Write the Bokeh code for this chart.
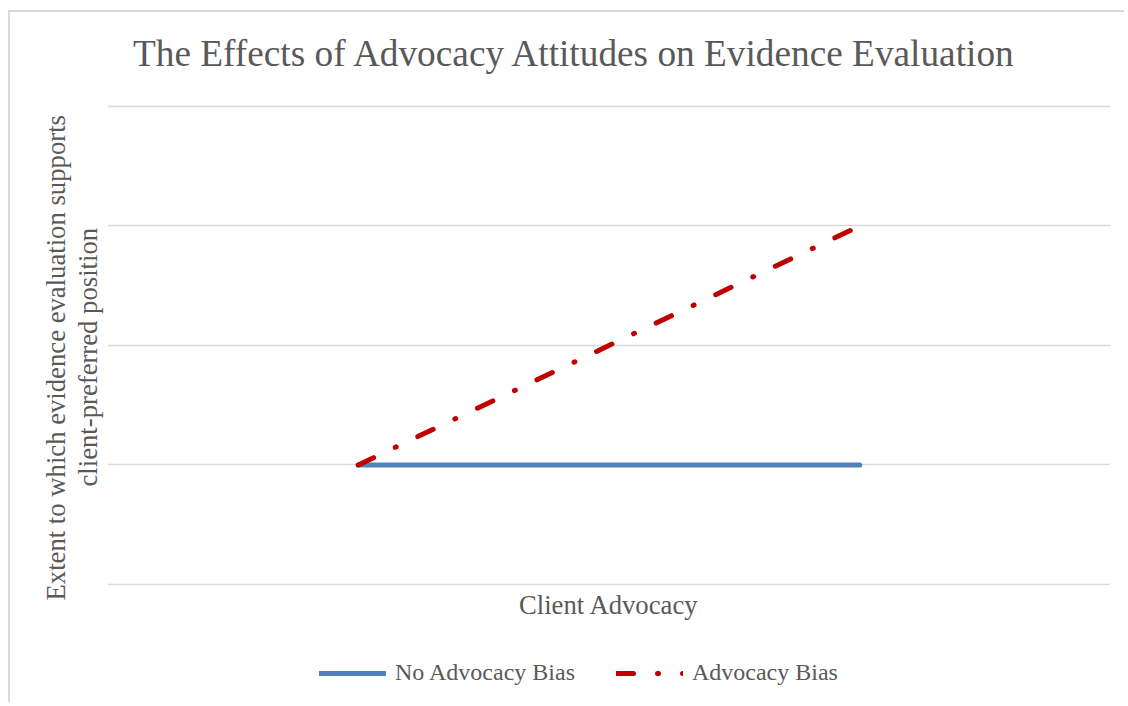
from bokeh.plotting import figure
from bokeh.layouts import column
from bokeh.models import (Range1d, FactorRange, FixedTicker, Legend, LegendItem,
                          Title, Label, ColumnDataSource, Div)
from bokeh.embed import file_html
from bokeh.resources import INLINE

# ---- data ----
categories = ["Low Client Advocacy", "High Client Advocacy"]
no_advocacy_bias = [1, 1]
advocacy_bias = [1, 3]
y_ticks = [0, 1, 2, 3, 4]

title_text = "The Effects of Advocacy Attitudes on Evidence Evaluation"
x_label = "Client Advocacy"
y_label_1 = "Extent to which evidence evaluation supports"
y_label_2 = "client-preferred position"

FONT = "Liberation Serif"
TXT = "#595959"
GRID = "#d9d9d9"

# plot frame spans the full canvas height; the value range is padded so that
# the title, x label and legend sit inside it (0 -> y=584px, 4 -> y=106px)
fig = figure(width=1120, height=698, output_backend="svg", toolbar_location=None,
             x_range=FactorRange(factors=categories, range_padding=0),
             y_range=Range1d(-0.954, 4.887),
             x_axis_location=None, y_axis_location=None,
             min_border_left=107, min_border_right=10, min_border_top=0, min_border_bottom=0)
fig.outline_line_color = None
fig.background_fill_color = "white"
fig.border_fill_color = "white"
fig.xgrid.visible = False
fig.ygrid.ticker = FixedTicker(ticks=y_ticks)
fig.ygrid.grid_line_color = GRID
fig.ygrid.grid_line_width = 1.5

src = ColumnDataSource(dict(x=categories, nb=no_advocacy_bias, ab=advocacy_bias))
r_nb = fig.line("x", "nb", source=src, line_color="#4f81bd", line_width=5, line_cap="round")
r_ab = fig.line("x", "ab", source=src, line_color="#c00000", line_width=5, line_cap="round",
                line_dash="17 24 1 24")

legend = Legend(items=[LegendItem(label="No Advocacy Bias", renderers=[r_nb]),
                       LegendItem(label="Advocacy Bias", renderers=[r_ab])],
                orientation="horizontal", location=(212, 12),
                glyph_width=67, glyph_height=20, label_standoff=9, spacing=41,
                padding=0, margin=0, border_line_color=None, background_fill_alpha=0,
                label_text_font=FONT, label_text_font_size="24px", label_text_color=TXT)
fig.add_layout(legend, "center")

fig.add_layout(Label(x=0.933, y=4.443, text=title_text,
                     text_align="center", text_baseline="alphabetic",
                     text_font=FONT, text_font_size="37.3px", text_color=TXT))
fig.add_layout(Label(x=1.0, y=-0.171, text=x_label,
                     text_align="center", text_baseline="alphabetic",
                     text_font=FONT, text_font_size="26.7px", text_color=TXT))

fig.add_layout(Title(text=y_label_2, align="left", offset=212, standoff=10,
                     text_font=FONT, text_font_size="26.7px", text_font_style="normal",
                     text_color=TXT), "left")
fig.add_layout(Title(text=y_label_1, align="left", offset=98, standoff=-10,
                     text_font=FONT, text_font_size="26.7px", text_font_style="normal",
                     text_color=TXT), "left")

# chart-area border (only its left and top edges fall inside the window)
border = Div(text="", margin=0,
             styles={"position": "absolute", "left": "8px", "top": "10px",
                     "width": "1116px", "height": "692px",
                     "border-left": "2px solid #d9d9d9",
                     "border-top": "2px solid #d9d9d9",
                     "pointer-events": "none"})

p = column(fig, border)
open("out.html", "w").write(file_html(p, INLINE))
